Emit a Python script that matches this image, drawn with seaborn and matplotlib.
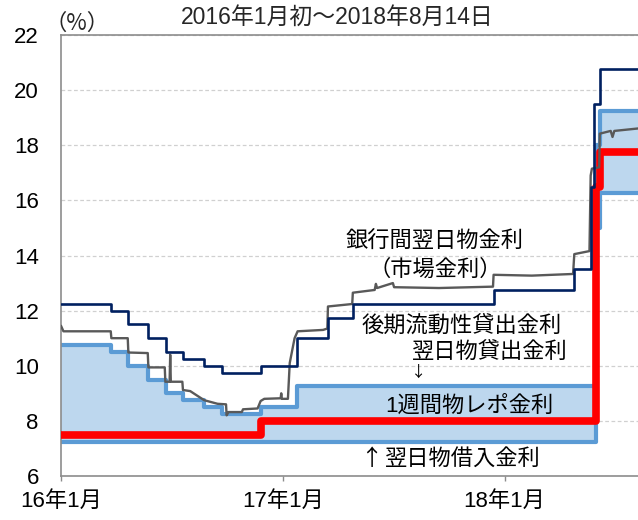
import pandas as pd
import matplotlib.pyplot as plt
import seaborn as sns

# 翌日物貸出金利 (上限)
upper_dates = ['2016-01-01', '2016-03-24', '2016-04-21', '2016-05-24', '2016-06-22', '2016-07-20',
               '2016-08-24', '2016-09-23', '2016-11-25', '2017-01-24', '2018-06-01', '2018-06-07', '2018-08-14']
upper_vals = [10.75, 10.5, 10.0, 9.5, 9.0, 8.75, 8.5, 8.25, 8.5, 9.25, 18.0, 19.25, 19.25]

# 翌日物借入金利 (下限)
lower_dates = ['2016-01-01', '2018-06-01', '2018-06-07', '2018-08-14']
lower_vals = [7.25, 15.0, 16.25, 16.25]

# 1週間物レポ金利
repo_dates = ['2016-01-01', '2016-11-25', '2018-06-01', '2018-06-07', '2018-08-14']
repo_vals = [7.5, 8.0, 16.5, 17.75, 17.75]

# 後期流動性貸出金利
llw_dates = ['2016-01-01', '2016-03-24', '2016-04-21', '2016-05-24', '2016-06-22', '2016-07-20',
             '2016-08-24', '2016-09-23', '2016-11-25', '2017-01-24', '2017-03-16', '2017-04-26',
             '2017-12-14', '2018-04-25', '2018-05-23', '2018-05-28', '2018-06-07', '2018-08-14']
llw_vals = [12.25, 12.0, 11.5, 11.0, 10.5, 10.25, 10.0, 9.75, 10.0, 11.0, 11.75, 12.25,
            12.75, 13.5, 16.5, 19.5, 20.75, 20.75]

# 銀行間翌日物金利 (市場金利)
mkt_dates = ['2016-01-01', '2016-01-05', '2016-03-23', '2016-03-24', '2016-04-20', '2016-04-21',
             '2016-05-23', '2016-05-24', '2016-06-20', '2016-06-21', '2016-06-28', '2016-06-29',
             '2016-06-30', '2016-07-19', '2016-07-20', '2016-08-01', '2016-08-10', '2016-08-24',
             '2016-09-15', '2016-09-29', '2016-09-30', '2016-10-03', '2016-10-25', '2016-10-27',
             '2016-11-20', '2016-11-25', '2016-12-01', '2016-12-28', '2016-12-29', '2016-12-30',
             '2017-01-09', '2017-01-12', '2017-01-20', '2017-01-25', '2017-03-08', '2017-03-15',
             '2017-03-16', '2017-04-25', '2017-04-26', '2017-06-01', '2017-06-03', '2017-06-05',
             '2017-07-01', '2017-07-03', '2017-09-15', '2017-12-13', '2017-12-14', '2018-02-15',
             '2018-04-24', '2018-04-26', '2018-05-21', '2018-05-23', '2018-05-25', '2018-06-06',
             '2018-06-07', '2018-06-25', '2018-06-28', '2018-07-01', '2018-08-14']
mkt_vals = [11.45, 11.25, 11.25, 11.0, 11.0, 10.48,
            10.46, 9.94, 9.94, 9.42, 9.42, 10.4,
            9.42, 9.42, 9.12, 9.08, 8.95, 8.75,
            8.62, 8.6, 8.2, 8.32, 8.32, 8.42,
            8.45, 8.72, 8.8, 8.82, 9.0, 8.8,
            8.8, 10.1, 11.0, 11.25, 11.3, 11.35,
            12.15, 12.24, 12.65, 12.75, 12.97, 12.82,
            13.0, 12.85, 12.82, 12.87, 13.3, 13.27,
            13.33, 14.05, 14.16, 16.9, 17.15, 17.2,
            18.42, 18.52, 18.3, 18.52, 18.62]

y_ticks = [6, 8, 10, 12, 14, 16, 18, 20, 22]
x_ticks = ['2016-01-01', '2017-01-01', '2018-01-01']
x_ticklabels = ['16年1月', '17年1月', '18年1月']


def step_df(dates, vals):
    return pd.DataFrame({'date': pd.to_datetime(dates), 'rate': vals})


upper = step_df(upper_dates, upper_vals)
lower = step_df(lower_dates, lower_vals)
repo = step_df(repo_dates, repo_vals)
llw = step_df(llw_dates, llw_vals)
mkt = step_df(mkt_dates, mkt_vals)

# 帯の塗りつぶし用に日付をそろえる
idx = pd.DatetimeIndex(sorted(set(upper['date'].tolist() + lower['date'].tolist())))
band = pd.DataFrame({
    'upper': upper.set_index('date')['rate'].reindex(idx).ffill(),
    'lower': lower.set_index('date')['rate'].reindex(idx).ffill(),
})

sns.set_theme(style='white')
plt.rcParams['font.family'] = ['Liberation Sans', 'Noto Sans CJK JP']

fig = plt.figure(figsize=(6.38, 5.2), dpi=100)
ax = fig.add_axes([61 / 638, 44 / 520, 577 / 638, 441 / 520])

ax.fill_between(band.index, band['lower'], band['upper'], step='post',
                color='#BDD7EE', linewidth=0, zorder=1)
sns.lineplot(data=upper, x='date', y='rate', ax=ax, drawstyle='steps-post',
             color='#5B9BD5', linewidth=3.0, estimator=None, zorder=2)
sns.lineplot(data=lower, x='date', y='rate', ax=ax, drawstyle='steps-post',
             color='#5B9BD5', linewidth=3.0, estimator=None, zorder=2)
sns.lineplot(data=repo, x='date', y='rate', ax=ax, drawstyle='steps-post',
             color='#FF0000', linewidth=5.5, estimator=None, zorder=3)
sns.lineplot(data=mkt, x='date', y='rate', ax=ax,
             color='#595959', linewidth=1.7, estimator=None, zorder=4)
sns.lineplot(data=llw, x='date', y='rate', ax=ax, drawstyle='steps-post',
             color='#002060', linewidth=1.9, estimator=None, zorder=5)

ax.set_ylim(6, 22)
ax.set_xlim(pd.Timestamp('2016-01-01'), pd.Timestamp('2018-08-09'))
ax.set_yticks(y_ticks)
ax.set_xticks(pd.to_datetime(x_ticks))
ax.set_xticklabels(x_ticklabels)
ax.set_xlabel('')
ax.set_ylabel('')

ax.yaxis.grid(True, linestyle=(0, (3, 2)), color='#D0D0D0', linewidth=0.9)
ax.xaxis.grid(False)
ax.set_axisbelow(True)
for side in ['left', 'top', 'bottom']:
    ax.spines[side].set_color('#8C8C8C')
    ax.spines[side].set_linewidth(1.2)
ax.spines['right'].set_visible(False)

ax.tick_params(axis='y', length=0, pad=16, labelsize=16, colors='black')
ax.tick_params(axis='x', length=3.6, width=1, color='#8C8C8C', pad=7, labelsize=16,
               labelcolor='black', direction='out', bottom=True)

txt = dict(transform=ax.transAxes, fontsize=16, color='black', ha='center', va='center')
ax.text(0.648, 0.531, '銀行間翌日物金利', **txt)
ax.text(0.648, 0.467, '（市場金利）', **txt)
ax.text(0.694, 0.338, '後期流動性貸出金利', **txt)
ax.text(0.743, 0.281, '翌日物貸出金利', **txt)
ax.text(0.620, 0.236, '↓', transform=ax.transAxes, fontsize=11, color='black',
        ha='center', va='center', family=['Noto Sans CJK JP'])
ax.text(0.707, 0.159, '1週間物レポ金利', **txt)
ax.text(0.538, 0.039, '↑', transform=ax.transAxes, fontsize=16, color='black',
        ha='center', va='center', family=['Noto Sans CJK JP'])
ax.text(0.561, 0.039, '翌日物借入金利', transform=ax.transAxes, fontsize=16,
        color='black', ha='left', va='center')

fig.text(0.528, 0.967, '2016年1月初～2018年8月14日', fontsize=16.5, ha='center', va='center')
fig.text(0.121, 0.956, '（%）', fontsize=16, ha='center', va='center',
         family=['Noto Sans CJK JP'])

plt.savefig('out.png', dpi=100)
plt.close()
